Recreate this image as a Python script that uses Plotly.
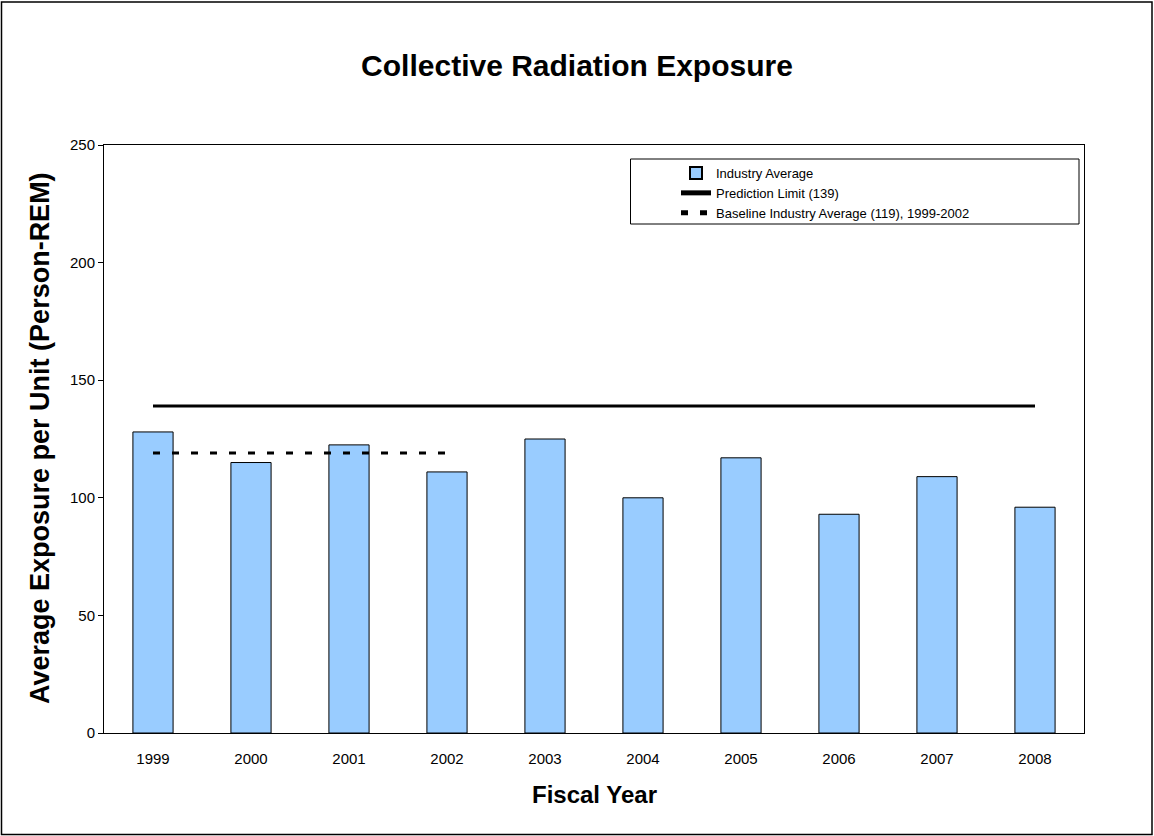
import plotly.graph_objects as go

years = ["1999", "2000", "2001", "2002", "2003", "2004", "2005", "2006", "2007", "2008"]
industry_avg = [128, 115, 122.5, 111, 125, 100, 117, 93, 109, 96]
prediction_limit = 139
baseline_years = ["1999", "2000", "2001", "2002"]
baseline_avg = 119
y_ticks = [0, 50, 100, 150, 200, 250]

FONT = "Arial, Liberation Sans, sans-serif"

# plot area in pixels
L, R, T, B = 104, 1084, 145, 733
W, H = 1154, 836
PW, PH = R - L, B - T

def px_x(px):
    return (px - L) / PW

def px_y(py):
    return (B - py) / PH

fig = go.Figure()
fig.add_trace(go.Bar(
    x=years, y=industry_avg, name="Industry Average",
    marker=dict(color="#99CCFF", line=dict(color="black", width=1)),
))
fig.add_trace(go.Scatter(
    x=years, y=[prediction_limit] * len(years), mode="lines",
    name="Prediction Limit (139)", line=dict(color="black", width=3),
))
fig.add_trace(go.Scatter(
    x=baseline_years, y=[baseline_avg] * len(baseline_years), mode="lines",
    name="Baseline Industry Average (119), 1999-2002",
    line=dict(color="black", width=3, dash="7px,12px"),
))

shapes = [
    # outer chart border
    dict(type="rect", xref="paper", yref="paper",
         x0=px_x(1.5), x1=px_x(1152), y0=px_y(834.5), y1=px_y(2),
         line=dict(color="black", width=1.5), fillcolor="rgba(0,0,0,0)", layer="below"),
    # legend box
    dict(type="rect", xref="paper", yref="paper",
         x0=px_x(630.5), x1=px_x(1079), y0=px_y(224), y1=px_y(159),
         line=dict(color="black", width=1), fillcolor="white", layer="below"),
]

annotations = [
    dict(text="<b>Fiscal Year</b>", xref="paper", yref="paper",
         x=0.5, y=px_y(794), xanchor="center", yanchor="middle",
         showarrow=False, font=dict(family=FONT, size=24, color="black")),
    dict(text="<b>Average Exposure per Unit (Person-REM)</b>", xref="paper", yref="paper",
         x=px_x(40), y=px_y(438), xanchor="center", yanchor="middle", textangle=-90,
         showarrow=False, font=dict(family=FONT, size=27, color="black")),
]

fig.update_layout(
    width=W, height=H,
    margin=dict(l=L, r=W - R, t=T, b=H - B, pad=0),
    paper_bgcolor="white", plot_bgcolor="white",
    title=dict(text="<b>Collective Radiation Exposure</b>", x=0.5, xanchor="center",
               y=1 - 65 / H, yanchor="middle", yref="container",
               font=dict(family=FONT, size=30, color="black")),
    font=dict(family=FONT, size=13, color="black"),
    bargap=0.59,
    showlegend=True,
    legend=dict(x=px_x(676), y=px_y(158), xanchor="left", yanchor="top",
                bgcolor="rgba(0,0,0,0)", borderwidth=0,
                font=dict(family=FONT, size=13, color="black"),
                tracegroupgap=0, itemsizing="constant"),
    xaxis=dict(type="category", categoryorder="array", categoryarray=years,
               showline=True, mirror=True, linecolor="black", linewidth=1,
               ticks="outside", ticklen=12, tickcolor="rgba(0,0,0,0)",
               showgrid=False, zeroline=False,
               tickfont=dict(family=FONT, size=15, color="black")),
    yaxis=dict(range=[0, 250], tickvals=y_ticks, ticktext=[str(v) for v in y_ticks],
               showline=True, mirror=True, linecolor="black", linewidth=1,
               ticks="outside", ticklen=5, tickcolor="black",
               showgrid=False, zeroline=False,
               tickfont=dict(family=FONT, size=15, color="black")),
    shapes=shapes,
    annotations=annotations,
)

fig.write_html("out.html", config={"displayModeBar": False},
               post_script="document.body.style.margin='0';document.body.style.overflow='hidden';")
